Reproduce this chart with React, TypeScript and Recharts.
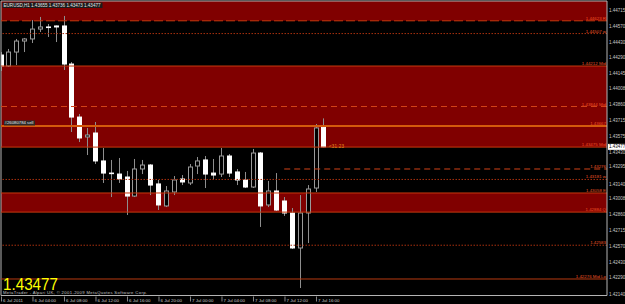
import {
  Bar,
  ComposedChart,
  ReferenceArea,
  ReferenceDot,
  ReferenceLine,
  XAxis,
  YAxis,
} from 'recharts';

// EURUSD H1, hour index counted from 6 Jul 2011 00:00
const barIndex = [
  0, 1, 2, 3, 4, 5, 6, 7, 8, 9, 10, 11, 12, 13, 14, 15, 16, 17, 18, 19, 20,
  21, 22, 23, 24, 25, 26, 27, 28, 29, 30, 31, 32, 33, 34, 35, 36, 37, 38, 39, 40, 41,
];
const opens = [
  1.44312, 1.44212, 1.44339, 1.44439, 1.44458, 1.44548, 1.44567, 1.44576, 1.44576, 1.4423,
  1.43748, 1.43567, 1.43603, 1.43349, 1.43239, 1.4323, 1.43203, 1.4303, 1.43276, 1.43312,
  1.4314, 1.4294, 1.43067, 1.43185, 1.43149, 1.43303, 1.43358, 1.43239, 1.4323, 1.43394,
  1.43249, 1.43176, 1.43112, 1.43421, 1.42949, 1.43076, 1.42985, 1.42876, 1.42558, 1.42876,
  1.43103, 1.43655,
];
const highs = [
  1.44339, 1.44367, 1.44458, 1.44467, 1.4463, 1.44658, 1.44594, 1.4458, 1.44667, 1.44248,
  1.43776, 1.43649, 1.43703, 1.43467, 1.43358, 1.43376, 1.43258, 1.43367, 1.43358, 1.43321,
  1.43176, 1.43121, 1.43212, 1.43221, 1.43321, 1.43385, 1.43394, 1.43367, 1.43467, 1.43412,
  1.43276, 1.43249, 1.43458, 1.4343, 1.43167, 1.43239, 1.43021, 1.42921, 1.43039, 1.4313,
  1.43685, 1.43736,
];
const lows = [
  1.44167, 1.44203, 1.44221, 1.44339, 1.44421, 1.44521, 1.44476, 1.4443, 1.44176, 1.43612,
  1.43521, 1.43403, 1.43321, 1.43149, 1.43021, 1.43149, 1.42858, 1.43021, 1.4323, 1.43039,
  1.42903, 1.4293, 1.43039, 1.4313, 1.4313, 1.4323, 1.43103, 1.43176, 1.43203, 1.43203,
  1.4313, 1.43103, 1.43103, 1.42749, 1.4293, 1.42894, 1.42849, 1.42549, 1.42194, 1.42603,
  1.43067, 1.43473,
];
const closes = [
  1.44212, 1.44339, 1.44439, 1.44458, 1.44548, 1.44567, 1.44564, 1.44567, 1.4423, 1.43748,
  1.43558, 1.43585, 1.43349, 1.43239, 1.43235, 1.43185, 1.4303, 1.43276, 1.43312, 1.4313,
  1.42949, 1.43076, 1.43176, 1.43158, 1.43294, 1.43349, 1.4323, 1.43221, 1.43394, 1.43239,
  1.43176, 1.43112, 1.43421, 1.4294, 1.43076, 1.42903, 1.42876, 1.42558, 1.42876, 1.43094,
  1.43649, 1.43477,
];

const timeTicks = [0, 4, 8, 12, 16, 20, 24, 28, 32, 36, 40];
const timeLabels = [
  '6 Jul 2011', '6 Jul 04:00', '6 Jul 08:00', '6 Jul 12:00', '6 Jul 16:00', '6 Jul 20:00',
  '7 Jul 00:00', '7 Jul 04:00', '7 Jul 08:00', '7 Jul 12:00', '7 Jul 16:00',
];
const priceTicks = [
  1.44715, 1.4457, 1.4443, 1.4429, 1.44145, 1.44008, 1.4386, 1.43715, 1.43575, 1.4343,
  1.43295, 1.4314, 1.43008, 1.4286, 1.42715, 1.4257, 1.4243, 1.4229, 1.4214,
];

// levels drawn by the indicators
const zoneBands = [
  [1.44623, 1.44803],
  [1.43475, 1.44212],
  [1.42884, 1.43058],
];
const edgeLevels = [1.44623, 1.44212, 1.43475, 1.43058, 1.42884];
const edgeLabels = ['1.44623  R', '1.44212  Mid', '1.43475  Mid', '1.43058  E', '1.42884  Q'];
const dottedLevels = [1.44507, 1.43181, 1.42583];
const dottedLabels = ['1.44507  w', '1.43181  w', '1.42583'];
const midDashLevel = 1.43844;
const midDashLabel = '1.43844  Mid';
const shortDashLevel = 1.43276;
const shortDashStart = 35.9;
const shortDashLabel = '1.43276';
const orderLevel = 1.43667;
const orderLabel = '#26080784 sell';
const lowLevel = 1.42276;
const lowLabel = '1.42276   Mid Lo';
const title = 'EURUSD,H1  1.43655 1.43736 1.43473 1.43477';
const timerText = '<31:23';
const copyright = 'MetaTrader - Alpari UK, © 2001-2009 MetaQuotes Software Corp.';

const data = barIndex.map((i, k) => ({
  i,
  o: opens[k],
  h: highs[k],
  l: lows[k],
  c: closes[k],
  hl: [lows[k], highs[k]],
}));

const W = 625;
const H = 304;
const FONT = '"Liberation Sans", Arial, sans-serif';
const xDomain = [-0.0635, 76.89];
const yDomain = [1.42126, 1.44803];
const LABEL_RED = '#ee5426';

function Candle(props: any) {
  const { x, y, width, height, payload } = props;
  if (!payload) return null;
  const top = Math.min(y, y + height);
  const span = Math.abs(height);
  const k = span / (payload.h - payload.l);
  const cx = Math.floor(x + width / 2) + 0.5;
  const bodyTop = top + (payload.h - Math.max(payload.o, payload.c)) * k;
  const bodyBot = top + (payload.h - Math.min(payload.o, payload.c)) * k;
  const bear = payload.c < payload.o;
  return (
    <g>
      <line x1={cx} x2={cx} y1={top} y2={top + span} stroke="#8e8e8e" />
      <rect
        x={cx - 2}
        y={bodyTop}
        width={4}
        height={Math.max(bodyBot - bodyTop, 0.6)}
        fill={bear ? '#ffffff' : '#000000'}
        stroke={bear ? '#ffffff' : '#9a9a9a'}
      />
    </g>
  );
}

function LevelLabel({ viewBox, text }: any) {
  if (!viewBox) return null;
  return (
    <text
      x={viewBox.x + viewBox.width - 1}
      y={viewBox.y - 1}
      textAnchor="end"
      fontSize={4.4}
      fontFamily={FONT}
      fill={LABEL_RED}
    >
      {text}
    </text>
  );
}

function OrderTag({ viewBox }: any) {
  if (!viewBox) return null;
  return (
    <g>
      <rect x={viewBox.x + 3} y={viewBox.y - 5.5} width={31} height={5} fill="#2a2a2a" />
      <text x={viewBox.x + 3.5} y={viewBox.y - 1.6} fontSize={4.3} fontFamily={FONT} fill="#e6e6e6" textLength={29}>
        {orderLabel}
      </text>
    </g>
  );
}

function BidTag({ viewBox }: any) {
  if (!viewBox) return null;
  const x = viewBox.x + viewBox.width;
  return (
    <g>
      <rect x={x + 1} y={viewBox.y - 3} width={W - x - 1} height={6} fill="#ffffff" />
      <text x={x + 2} y={viewBox.y + 1.6} fontSize={4.5} fontFamily={FONT} fill="#000000">
        {closes[closes.length - 1].toFixed(5)}
      </text>
    </g>
  );
}

function TimerTag({ viewBox }: any) {
  if (!viewBox) return null;
  const cx = viewBox.x + viewBox.width / 2;
  const cy = viewBox.y + viewBox.height / 2;
  return (
    <text x={cx + 4.6} y={cy + 0.8} fontSize={4.6} fontFamily={FONT} fill="#e4901e" textLength={15}>
      {timerText}
    </text>
  );
}

function PriceTick({ x, y, payload }: any) {
  return (
    <text x={x + 2} y={y + 1.6} fontSize={4.5} fontFamily={FONT} fill="#c8c8c8">
      {Number(payload.value).toFixed(5)}
    </text>
  );
}

function TimeTick({ x, y, payload }: any) {
  const k = timeTicks.indexOf(payload.value);
  return (
    <g>
      <line x1={x} x2={x} y1={y + 1} y2={y + 6} stroke="#c0c0c0" strokeWidth={0.7} />
      <text x={x + 1.5} y={y + 6.5} fontSize={4.4} fontFamily={FONT} fill="#c8c8c8">
        {timeLabels[k]}
      </text>
    </g>
  );
}

export default function App() {
  return (
    <div style={{ position: 'absolute', left: 0, top: 0, width: W, height: H, background: '#000' }}>
      <ComposedChart width={W} height={H} data={data} margin={{ top: 1, right: 0, bottom: 0, left: 1 }}>
        <XAxis
          type="number"
          dataKey="i"
          domain={xDomain}
          allowDataOverflow
          ticks={timeTicks}
          interval={0}
          height={8.5}
          tickSize={0}
          tickMargin={0}
          tickLine={false}
          axisLine={{ stroke: '#b4b4b4' }}
          tick={<TimeTick />}
        />
        <YAxis
          orientation="right"
          domain={yDomain}
          allowDataOverflow
          ticks={priceTicks}
          interval={0}
          width={18}
          tickSize={0}
          tickMargin={0}
          tickLine={false}
          axisLine={{ stroke: '#b4b4b4' }}
          tick={<PriceTick />}
        />
        {zoneBands.map(([a, b]) => (
          <ReferenceArea key={a} y1={a} y2={b} fill="#800000" fillOpacity={1} stroke="none" />
        ))}
        <ReferenceLine y={yDomain[1]} stroke="#b4b4b4" />
        <ReferenceLine x={xDomain[0]} stroke="#b4b4b4" />
        {edgeLevels.map((v, k) => (
          <ReferenceLine
            key={v}
            y={v}
            stroke="#c8380e"
            strokeDasharray={k === 0 ? '9 3' : undefined}
            label={<LevelLabel text={edgeLabels[k]} />}
          />
        ))}
        {dottedLevels.map((v, k) => (
          <ReferenceLine
            key={v}
            y={v}
            stroke="#a8300e"
            strokeDasharray="1.5 1.5"
            label={<LevelLabel text={dottedLabels[k]} />}
          />
        ))}
        <ReferenceLine
          y={midDashLevel}
          stroke="#d24218"
          strokeDasharray="6 4"
          label={<LevelLabel text={midDashLabel} />}
        />
        <ReferenceLine
          segment={[
            { x: shortDashStart, y: shortDashLevel },
            { x: xDomain[1], y: shortDashLevel },
          ]}
          stroke="#d24218"
          strokeDasharray="6 4"
          label={<LevelLabel text={shortDashLabel} />}
        />
        <ReferenceLine y={orderLevel} stroke="#d45a0c" strokeWidth={2} label={<LevelLabel text={orderLevel.toFixed(5)} />} />
        <ReferenceLine y={orderLevel} stroke="none" label={<OrderTag />} />
        <ReferenceLine y={lowLevel} stroke="#b83a10" label={<LevelLabel text={lowLabel} />} />
        <ReferenceLine y={closes[closes.length - 1]} stroke="none" label={<BidTag />} />
        <Bar dataKey="hl" barSize={5} shape={<Candle />} isAnimationActive={false} />
        <ReferenceDot
          x={barIndex[barIndex.length - 1]}
          y={closes[closes.length - 1]}
          r={1}
          fill="none"
          stroke="none"
          label={<TimerTag />}
        />
      </ComposedChart>
      <svg width={W} height={H} style={{ position: 'absolute', left: 0, top: 0, pointerEvents: 'none' }}>
        <rect x={2.5} y={2.5} width={100} height={5.5} fill="#1c1c1c" />
        <text x={3.5} y={7} fontSize={4.6} fontFamily={FONT} fill="#e6e6e6" textLength={97}>
          {title}
        </text>
        <text x={3} y={290.3} fontSize={17} fontFamily={FONT} fill="#ffff00" textLength={55} lengthAdjust="spacingAndGlyphs">
          {closes[closes.length - 1].toFixed(5)}
        </text>
        <text x={3} y={294.2} fontSize={4.2} fontFamily={FONT} fill="#c4c4c4" textLength={144}>
          {copyright}
        </text>
      </svg>
    </div>
  );
}
